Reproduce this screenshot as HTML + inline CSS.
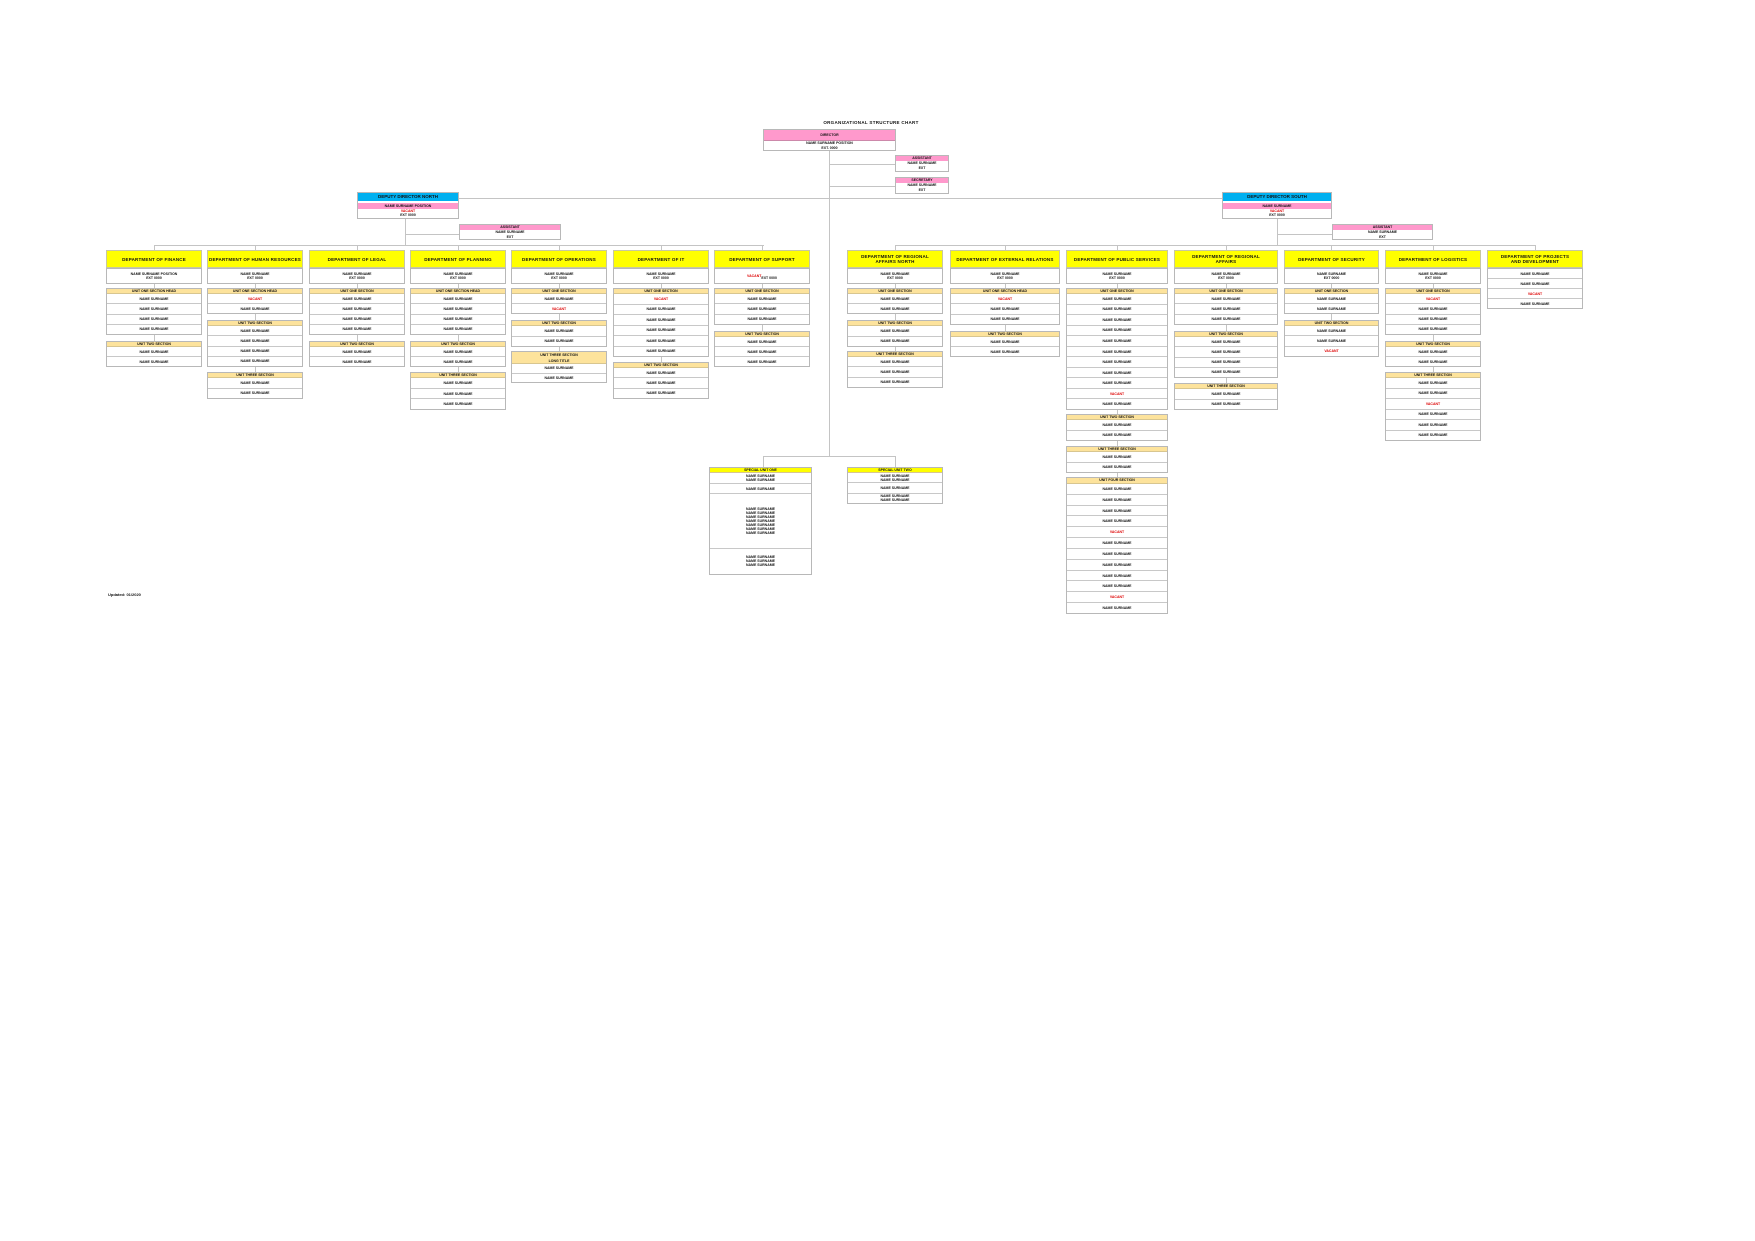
<!DOCTYPE html>
<html><head><meta charset="utf-8"><style>
*{margin:0;padding:0;box-sizing:border-box}
body{width:1755px;height:1241px;background:#fff;position:relative;overflow:hidden;font-family:"Liberation Sans",sans-serif;font-weight:bold;color:#111}
.a{position:absolute}
.ln{position:absolute;background:#c4c4c4}
.col{position:absolute;top:0;height:700px}
.y{position:absolute;left:0;right:0;top:250px;height:18px;background:#ffff00;border:1px solid #c8c8a0;font-size:4.5px;text-align:center;padding-top:6px;letter-spacing:.2px}
.sec{position:absolute;left:0;right:0;border:1px solid #b8b8b8;background:#fff;display:flex;flex-direction:column}
.sec .h{height:5px;background:#fde39c;border-bottom:1px solid #d8c690;font-size:3.5px;text-align:center;line-height:5px;flex:none}
.sec .r{flex:1;border-bottom:1px solid #c8c8c8;font-size:3.5px;text-align:center;display:flex;align-items:center;justify-content:center}
.sec .r:last-child{border-bottom:none}
.red{color:#d00}
.box{position:absolute;border:1px solid #b8b8b8;background:#fff;font-size:3.5px;text-align:center}
</style></head><body>

<div class="a" style="left:816px;top:120px;width:110px;font-size:4.5px;text-align:center;letter-spacing:.3px">ORGANIZATIONAL STRUCTURE CHART</div>

<!-- trunk lines -->
<div class="ln" style="left:829px;top:151px;width:1px;height:306px"></div>
<div class="ln" style="left:829px;top:164px;width:66px;height:1px"></div>
<div class="ln" style="left:829px;top:186px;width:66px;height:1px"></div>
<div class="ln" style="left:408px;top:198px;width:815px;height:1px"></div>
<div class="ln" style="left:763px;top:456px;width:133px;height:1px"></div>
<div class="ln" style="left:763px;top:456px;width:1px;height:11px"></div>
<div class="ln" style="left:895px;top:456px;width:1px;height:11px"></div>

<!-- CEO -->
<div class="box" style="left:763px;top:129px;width:133px;height:22px">
<div style="background:#ff99cc;height:11px;border-bottom:1px solid #c8a;line-height:11px">DIRECTOR</div>
<div style="line-height:5px">NAME SURNAME POSITION</div><div style="line-height:4px">EXT. 0000</div></div>
<div class="box" style="left:895px;top:155px;width:54px;height:17px"><div style="background:#ff99cc;height:5px;line-height:5px">ASSISTANT</div><div style="line-height:5px">NAME SURNAME</div><div>EXT</div></div>
<div class="box" style="left:895px;top:177px;width:54px;height:17px"><div style="background:#ff99cc;height:5px;line-height:5px">SECRETARY</div><div style="line-height:5px">NAME SURNAME</div><div>EXT</div></div>

<!-- left blue -->
<div class="ln" style="left:405px;top:219px;width:1px;height:27px"></div>
<div class="ln" style="left:405px;top:234px;width:54px;height:1px"></div>
<div class="ln" style="left:154px;top:245px;width:610px;height:1px"></div>
<div class="box" style="left:357px;top:192px;width:102px;height:27px">
<div style="background:#00b0f0;height:8px;line-height:8px;font-size:4.5px">DEPUTY DIRECTOR NORTH</div>
<div style="background:#ff99cc;height:6px;line-height:6px;margin-top:2px">NAME SURNAME POSITION</div>
<div class="red" style="line-height:4px">VACANT</div><div style="line-height:5px">EXT 0000</div></div>
<div class="box" style="left:459px;top:224px;width:102px;height:16px"><div style="background:#ff99cc;height:5px;line-height:5px">ASSISTANT</div><div style="line-height:5px">NAME SURNAME</div><div>EXT</div></div>

<!-- right blue -->
<div class="ln" style="left:1277px;top:219px;width:1px;height:27px"></div>
<div class="ln" style="left:1277px;top:234px;width:55px;height:1px"></div>
<div class="ln" style="left:895px;top:245px;width:641px;height:1px"></div>
<div class="box" style="left:1222px;top:192px;width:110px;height:27px">
<div style="background:#00b0f0;height:8px;line-height:8px;font-size:4.5px">DEPUTY DIRECTOR SOUTH</div>
<div style="background:#ff99cc;height:6px;line-height:6px;margin-top:2px">NAME SURNAME</div>
<div class="red" style="line-height:4px">VACANT</div><div style="line-height:5px">EXT 0000</div></div>
<div class="box" style="left:1332px;top:224px;width:101px;height:16px"><div style="background:#ff99cc;height:5px;line-height:5px">ASSISTANT</div><div style="line-height:5px">NAME SURNAME</div><div>EXT</div></div>

<!-- LEFT COLUMNS -->
<div class="col" style="left:106px;width:96px"><div class="ln" style="left:48px;top:245px;width:1px;height:122px"></div>
<div class="y">DEPARTMENT OF FINANCE</div>
<div class="sec" style="top:268px;height:16px"><div class="r">NAME SURNAME POSITION<br>EXT 0000</div></div>
<div class="sec" style="top:288px;height:47px"><div class="h">UNIT ONE SECTION HEAD</div><div class="r">NAME SURNAME</div><div class="r">NAME SURNAME</div><div class="r">NAME SURNAME</div><div class="r">NAME SURNAME</div></div>
<div class="sec" style="top:341px;height:26px"><div class="h">UNIT TWO SECTION</div><div class="r">NAME SURNAME</div><div class="r">NAME SURNAME</div></div></div>

<div class="col" style="left:207px;width:96px"><div class="ln" style="left:48px;top:245px;width:1px;height:154px"></div>
<div class="y">DEPARTMENT OF HUMAN RESOURCES</div>
<div class="sec" style="top:268px;height:16px"><div class="r">NAME SURNAME<br>EXT 0000</div></div>
<div class="sec" style="top:288px;height:26px"><div class="h">UNIT ONE SECTION HEAD</div><div class="r red">VACANT</div><div class="r">NAME SURNAME</div></div>
<div class="sec" style="top:320px;height:47px"><div class="h">UNIT TWO SECTION</div><div class="r">NAME SURNAME</div><div class="r">NAME SURNAME</div><div class="r">NAME SURNAME</div><div class="r">NAME SURNAME</div></div>
<div class="sec" style="top:372px;height:27px"><div class="h">UNIT THREE SECTION</div><div class="r">NAME SURNAME</div><div class="r">NAME SURNAME</div></div></div>

<div class="col" style="left:309px;width:96px"><div class="ln" style="left:48px;top:245px;width:1px;height:122px"></div>
<div class="y">DEPARTMENT OF LEGAL</div>
<div class="sec" style="top:268px;height:16px"><div class="r">NAME SURNAME<br>EXT 0000</div></div>
<div class="sec" style="top:288px;height:47px"><div class="h">UNIT ONE SECTION</div><div class="r">NAME SURNAME</div><div class="r">NAME SURNAME</div><div class="r">NAME SURNAME</div><div class="r">NAME SURNAME</div></div>
<div class="sec" style="top:341px;height:26px"><div class="h">UNIT TWO SECTION</div><div class="r">NAME SURNAME</div><div class="r">NAME SURNAME</div></div></div>

<div class="col" style="left:410px;width:96px"><div class="ln" style="left:48px;top:245px;width:1px;height:165px"></div>
<div class="y">DEPARTMENT OF PLANNING</div>
<div class="sec" style="top:268px;height:16px"><div class="r">NAME SURNAME<br>EXT 0000</div></div>
<div class="sec" style="top:288px;height:47px"><div class="h">UNIT ONE SECTION HEAD</div><div class="r">NAME SURNAME</div><div class="r">NAME SURNAME</div><div class="r">NAME SURNAME</div><div class="r">NAME SURNAME</div></div>
<div class="sec" style="top:341px;height:26px"><div class="h">UNIT TWO SECTION</div><div class="r">NAME SURNAME</div><div class="r">NAME SURNAME</div></div>
<div class="sec" style="top:372px;height:38px"><div class="h">UNIT THREE SECTION</div><div class="r">NAME SURNAME</div><div class="r">NAME SURNAME</div><div class="r">NAME SURNAME</div></div></div>

<div class="col" style="left:511px;width:96px"><div class="ln" style="left:48px;top:245px;width:1px;height:138px"></div>
<div class="y">DEPARTMENT OF OPERATIONS</div>
<div class="sec" style="top:268px;height:16px"><div class="r">NAME SURNAME<br>EXT 0000</div></div>
<div class="sec" style="top:288px;height:26px"><div class="h">UNIT ONE SECTION</div><div class="r">NAME SURNAME</div><div class="r red">VACANT</div></div>
<div class="sec" style="top:320px;height:27px"><div class="h">UNIT TWO SECTION</div><div class="r">NAME SURNAME</div><div class="r">NAME SURNAME</div></div>
<div class="sec" style="top:351px;height:32px"><div class="h" style="height:12px;line-height:6px">UNIT THREE SECTION<br>LONG TITLE</div><div class="r">NAME SURNAME</div><div class="r">NAME SURNAME</div></div></div>

<div class="col" style="left:613px;width:96px"><div class="ln" style="left:48px;top:245px;width:1px;height:154px"></div>
<div class="y">DEPARTMENT OF IT</div>
<div class="sec" style="top:268px;height:16px"><div class="r">NAME SURNAME<br>EXT 0000</div></div>
<div class="sec" style="top:288px;height:69px"><div class="h">UNIT ONE SECTION</div><div class="r red">VACANT</div><div class="r">NAME SURNAME</div><div class="r">NAME SURNAME</div><div class="r">NAME SURNAME</div><div class="r">NAME SURNAME</div><div class="r">NAME SURNAME</div></div>
<div class="sec" style="top:362px;height:37px"><div class="h">UNIT TWO SECTION</div><div class="r">NAME SURNAME</div><div class="r">NAME SURNAME</div><div class="r">NAME SURNAME</div></div></div>

<div class="col" style="left:714px;width:96px"><div class="ln" style="left:48px;top:245px;width:1px;height:122px"></div>
<div class="y">DEPARTMENT OF SUPPORT</div>
<div class="sec" style="top:268px;height:16px"><div class="r"><span class="red">VACANT</span><br>EXT 0000</div></div>
<div class="sec" style="top:288px;height:37px"><div class="h">UNIT ONE SECTION</div><div class="r">NAME SURNAME</div><div class="r">NAME SURNAME</div><div class="r">NAME SURNAME</div></div>
<div class="sec" style="top:331px;height:36px"><div class="h">UNIT TWO SECTION</div><div class="r">NAME SURNAME</div><div class="r">NAME SURNAME</div><div class="r">NAME SURNAME</div></div></div>

<!-- RIGHT COLUMNS -->
<div class="col" style="left:847px;width:96px"><div class="ln" style="left:48px;top:245px;width:1px;height:143px"></div>
<div class="y" style="padding-top:3px">DEPARTMENT OF REGIONAL<br>AFFAIRS NORTH</div>
<div class="sec" style="top:268px;height:16px"><div class="r">NAME SURNAME<br>EXT 0000</div></div>
<div class="sec" style="top:288px;height:26px"><div class="h">UNIT ONE SECTION</div><div class="r">NAME SURNAME</div><div class="r">NAME SURNAME</div></div>
<div class="sec" style="top:320px;height:27px"><div class="h">UNIT TWO SECTION</div><div class="r">NAME SURNAME</div><div class="r">NAME SURNAME</div></div>
<div class="sec" style="top:351px;height:37px"><div class="h">UNIT THREE SECTION</div><div class="r">NAME SURNAME</div><div class="r">NAME SURNAME</div><div class="r">NAME SURNAME</div></div></div>

<div class="col" style="left:950px;width:110px"><div class="ln" style="left:55px;top:245px;width:1px;height:112px"></div>
<div class="y">DEPARTMENT OF EXTERNAL RELATIONS</div>
<div class="sec" style="top:268px;height:16px"><div class="r">NAME SURNAME<br>EXT 0000</div></div>
<div class="sec" style="top:288px;height:37px"><div class="h">UNIT ONE SECTION HEAD</div><div class="r red">VACANT</div><div class="r">NAME SURNAME</div><div class="r">NAME SURNAME</div></div>
<div class="sec" style="top:331px;height:26px"><div class="h">UNIT TWO SECTION</div><div class="r">NAME SURNAME</div><div class="r">NAME SURNAME</div></div></div>

<div class="col" style="left:1066px;width:102px"><div class="ln" style="left:51px;top:245px;width:1px;height:369px"></div>
<div class="y">DEPARTMENT OF PUBLIC SERVICES</div>
<div class="sec" style="top:268px;height:16px"><div class="r">NAME SURNAME<br>EXT 0000</div></div>
<div class="sec" style="top:288px;height:122px"><div class="h">UNIT ONE SECTION</div><div class="r">NAME SURNAME</div><div class="r">NAME SURNAME</div><div class="r">NAME SURNAME</div><div class="r">NAME SURNAME</div><div class="r">NAME SURNAME</div><div class="r">NAME SURNAME</div><div class="r">NAME SURNAME</div><div class="r">NAME SURNAME</div><div class="r">NAME SURNAME</div><div class="r red">VACANT</div><div class="r">NAME SURNAME</div></div>
<div class="sec" style="top:414px;height:27px"><div class="h">UNIT TWO SECTION</div><div class="r">NAME SURNAME</div><div class="r">NAME SURNAME</div></div>
<div class="sec" style="top:446px;height:27px"><div class="h">UNIT THREE SECTION</div><div class="r">NAME SURNAME</div><div class="r">NAME SURNAME</div></div>
<div class="sec" style="top:477px;height:137px"><div class="h" style="height:6px">UNIT FOUR SECTION</div><div class="r">NAME SURNAME</div><div class="r">NAME SURNAME</div><div class="r">NAME SURNAME</div><div class="r">NAME SURNAME</div><div class="r red">VACANT</div><div class="r">NAME SURNAME</div><div class="r">NAME SURNAME</div><div class="r">NAME SURNAME</div><div class="r">NAME SURNAME</div><div class="r">NAME SURNAME</div><div class="r red">VACANT</div><div class="r">NAME SURNAME</div></div></div>

<div class="col" style="left:1174px;width:104px"><div class="ln" style="left:52px;top:245px;width:1px;height:165px"></div>
<div class="y" style="padding-top:3px">DEPARTMENT OF REGIONAL<br>AFFAIRS</div>
<div class="sec" style="top:268px;height:16px"><div class="r">NAME SURNAME<br>EXT 0000</div></div>
<div class="sec" style="top:288px;height:37px"><div class="h">UNIT ONE SECTION</div><div class="r">NAME SURNAME</div><div class="r">NAME SURNAME</div><div class="r">NAME SURNAME</div></div>
<div class="sec" style="top:331px;height:47px"><div class="h">UNIT TWO SECTION</div><div class="r">NAME SURNAME</div><div class="r">NAME SURNAME</div><div class="r">NAME SURNAME</div><div class="r">NAME SURNAME</div></div>
<div class="sec" style="top:383px;height:27px"><div class="h">UNIT THREE SECTION</div><div class="r">NAME SURNAME</div><div class="r">NAME SURNAME</div></div></div>

<div class="col" style="left:1284px;width:95px"><div class="ln" style="left:47px;top:245px;width:1px;height:112px"></div>
<div class="y">DEPARTMENT OF SECURITY</div>
<div class="sec" style="top:268px;height:16px"><div class="r">NAME SURNAME<br>EXT 0000</div></div>
<div class="sec" style="top:288px;height:26px"><div class="h">UNIT ONE SECTION</div><div class="r">NAME SURNAME</div><div class="r">NAME SURNAME</div></div>
<div class="sec" style="top:320px;height:37px"><div class="h">UNIT TWO SECTION</div><div class="r">NAME SURNAME</div><div class="r">NAME SURNAME</div><div class="r"><span class="red">VACANT</span></div></div></div>

<div class="col" style="left:1385px;width:96px"><div class="ln" style="left:48px;top:245px;width:1px;height:196px"></div>
<div class="y">DEPARTMENT OF LOGISTICS</div>
<div class="sec" style="top:268px;height:16px"><div class="r">NAME SURNAME<br>EXT 0000</div></div>
<div class="sec" style="top:288px;height:47px"><div class="h">UNIT ONE SECTION</div><div class="r red">VACANT</div><div class="r">NAME SURNAME</div><div class="r">NAME SURNAME</div><div class="r">NAME SURNAME</div></div>
<div class="sec" style="top:341px;height:26px"><div class="h">UNIT TWO SECTION</div><div class="r">NAME SURNAME</div><div class="r">NAME SURNAME</div></div>
<div class="sec" style="top:372px;height:69px"><div class="h">UNIT THREE SECTION</div><div class="r">NAME SURNAME</div><div class="r">NAME SURNAME</div><div class="r red">VACANT</div><div class="r">NAME SURNAME</div><div class="r">NAME SURNAME</div><div class="r">NAME SURNAME</div></div></div>

<div class="col" style="left:1487px;width:96px"><div class="ln" style="left:48px;top:245px;width:1px;height:10px"></div>
<div class="y" style="padding-top:3px">DEPARTMENT OF PROJECTS<br>AND DEVELOPMENT</div>
<div class="sec" style="top:268px;height:41px"><div class="r">NAME SURNAME</div><div class="r">NAME SURNAME</div><div class="r"><span class="red">VACANT</span></div><div class="r">NAME SURNAME</div></div></div>

<!-- bottom boxes -->
<div class="sec" style="left:709px;width:103px;top:467px;height:108px"><div class="h" style="background:#ffff00">SPECIAL UNIT ONE</div><div class="r" style="flex:1">NAME SURNAME<br>NAME SURNAME</div><div class="r" style="flex:1">NAME SURNAME</div><div class="r" style="flex:5.5">NAME SURNAME<br>NAME SURNAME<br>NAME SURNAME<br>NAME SURNAME<br>NAME SURNAME<br>NAME SURNAME<br>NAME SURNAME</div><div class="r" style="flex:2.6">NAME SURNAME<br>NAME SURNAME<br>NAME SURNAME</div></div>
<div class="sec" style="left:847px;width:96px;top:467px;height:37px"><div class="h" style="background:#ffff00">SPECIAL UNIT TWO</div><div class="r">NAME SURNAME<br>NAME SURNAME</div><div class="r">NAME SURNAME</div><div class="r">NAME SURNAME<br>NAME SURNAME</div></div>

<div class="a" style="left:108px;top:592px;font-size:4px">Updated: 01/2020</div>
</body></html>
